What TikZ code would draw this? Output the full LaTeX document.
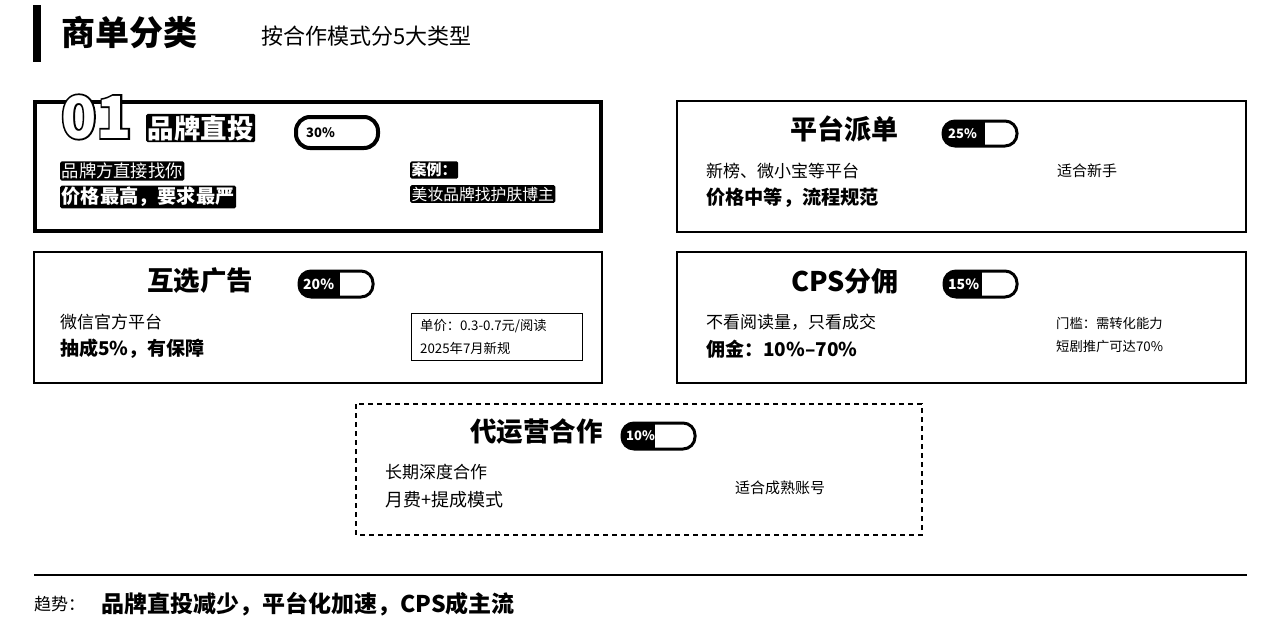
\documentclass[tikz,border=0pt]{standalone}
\usepackage{fontspec}
\setmainfont{Noto Sans CJK SC}
\newfontfamily\embfont{Noto Sans CJK SC}[BoldFeatures={FakeBold=6}]
\newcommand\fs[1]{\fontsize{#1}{#1}\selectfont}
\begin{document}
\begin{tikzpicture}[x=1pt,y=-1pt,
  txt/.style={inner sep=0pt, anchor=west, text=black},
  inv/.style={fill=black, text=white, inner sep=1.5pt, anchor=west, rounded corners=1.5pt},
  card/.style={draw=black, line width=2pt},
  pillframe/.style={draw=black, line width=3pt, rounded corners=12pt},
  rule/.style={draw=black, line width=2pt}]
\useasboundingbox (0,0) rectangle (1280,622);
\fill[white] (0,0) rectangle (1280,622);

% header
\fill[black] (33,5) rectangle (41,62);
\node[txt] (title) at (61,33) {\fs{34}\bfseries 商单分类};
\node[txt] (subtitle) at (261,36) {\fs{22}按合作模式分5大类型};

% card 1
\draw[card, line width=4.5pt] (35,102) rectangle (601,231);
\node[txt] (n01b) at (61,117) {\fs{58}\embfont\bfseries 01};
\node[txt, text=white] (n01) at (61,117) {\fs{58}\bfseries 01};
\node[inv] (t1) at (146,128) {\fs{26.5}\bfseries 品牌直投};
\draw[pillframe, line width=4pt, rounded corners=14pt] (296,117) rectangle (378,148);
\node[txt] (p1) at (306,132.5) {\fs{13}\bfseries 30\%};
\node[inv] (a1) at (60,171) {\fs{17.3}品牌方直接找你};
\node[inv] (b1) at (60,197) {\fs{19.2}\bfseries 价格最高，要求最严};
\node[inv] (c1) at (410,170) {\fs{15}\bfseries 案例：};
\node[inv] (d1) at (410,194) {\fs{15.8}美妆品牌找护肤博主};

% card 2
\draw[card] (677,101) rectangle (1246,232);
\node[txt] (t2) at (790,129) {\fs{27}\bfseries 平台派单};
\begin{scope}
\clip[rounded corners=12pt] (943,121) rectangle (1017,146);
\fill[black] (943,121) rectangle (985,146);
\end{scope}
\draw[pillframe] (943,121) rectangle (1017,146);
\node[txt, text=white] (p2) at (948,133.5) {\fs{13}\bfseries 25\%};
\node[txt] (a2) at (706,171) {\fs{17}新榜、微小宝等平台};
\node[txt] (b2) at (706,198) {\fs{19.2}\bfseries 价格中等，流程规范};
\node[txt] (c2) at (1057,171) {\fs{15}适合新手};

% card 3
\draw[card] (34,252) rectangle (602,383);
\node[txt] (t3) at (147,281) {\fs{26.5}\bfseries 互选广告};
\begin{scope}
\clip[rounded corners=12pt] (299,271) rectangle (373,297);
\fill[black] (299,271) rectangle (340,297);
\end{scope}
\draw[pillframe] (299,271) rectangle (373,297);
\node[txt, text=white] (p3) at (303,284) {\fs{14}\bfseries 20\%};
\node[txt] (a3) at (60,322) {\fs{17}微信官方平台};
\node[txt] (b3) at (60,349) {\fs{19}\bfseries 抽成5\%，有保障};
\node[draw=black, line width=1pt, minimum width=171pt, minimum height=47pt, anchor=north west, inner sep=0pt] (box3) at (411,313) {};
\node[txt] (c3) at (420,326) {\fs{13.3}单价：0.3-0.7元/阅读};
\node[txt] (d3) at (420,348) {\fs{13.3}2025年7月新规};

% card 4
\draw[card] (677,252) rectangle (1246,383);
\node[txt] (t4) at (791,281) {\fs{27}\bfseries CPS分佣};
\begin{scope}
\clip[rounded corners=12pt] (944,271) rectangle (1017,297);
\fill[black] (944,271) rectangle (982,297);
\end{scope}
\draw[pillframe] (944,271) rectangle (1017,297);
\node[txt, text=white] (p4) at (948,284) {\fs{14}\bfseries 15\%};
\node[txt] (a4) at (706,322) {\fs{17}不看阅读量，只看成交};
\node[txt] (b4) at (706,349) {\fs{19}\bfseries 佣金：10\%–70\%};
\node[txt] (c4) at (1056,323) {\fs{13.3}门槛：需转化能力};
\node[txt] (d4) at (1056,346) {\fs{13.3}短剧推广可达70\%};

% card 5
\draw[draw=black, line width=1.3pt, dash pattern=on 5pt off 4pt] (356,404) rectangle (922,535);
\node[txt] (t5) at (470,432) {\fs{26.5}\bfseries 代运营合作};
\begin{scope}
\clip[rounded corners=12pt] (622,423) rectangle (695,449);
\fill[black] (622,423) rectangle (655,449);
\end{scope}
\draw[pillframe] (622,423) rectangle (695,449);
\node[txt, text=white] (p5) at (626,436) {\fs{13}\bfseries 10\%};
\node[txt] (a5) at (385,472) {\fs{17}长期深度合作};
\node[txt] (b5) at (385,500) {\fs{18}月费+提成模式};
\node[txt] (c5) at (735,488) {\fs{15}适合成熟账号};

% footer
\coordinate (r1) at (34,575);
\coordinate (r2) at (1247,575);
\draw[rule] (r1) -- (r2);
\node[txt] (trend) at (34,604) {\fs{17}趋势：};
\node[txt] (trendtext) at (101,604) {\fs{23}\bfseries 品牌直投减少，平台化加速，CPS成主流};
\end{tikzpicture}
\end{document}
